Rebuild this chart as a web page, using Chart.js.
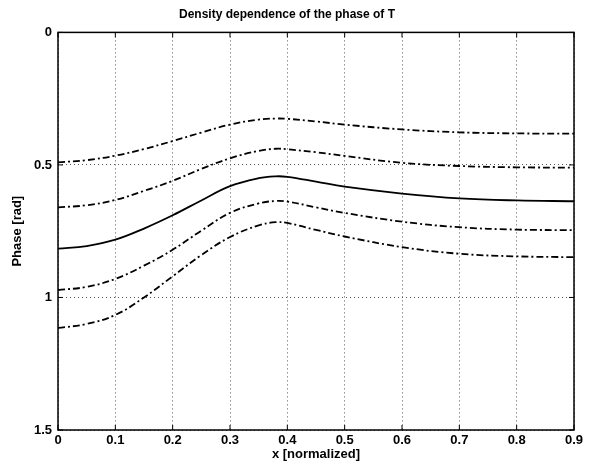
<!DOCTYPE html>
<html>
<head>
<meta charset="utf-8">
<script src="https://cdn.jsdelivr.net/npm/chart.js@4/dist/chart.umd.min.js"></script>
<style>
  html, body { margin: 0; padding: 0; background: #fff; }
  #wrap { width: 590px; height: 466px; }
</style>
</head>
<body>
<div id="wrap"><canvas id="c" width="590" height="466"></canvas></div>
<script>
// Normalized position along x
const xs = [0, 0.05, 0.1, 0.15, 0.2, 0.25, 0.3, 0.35, 0.38, 0.4, 0.45, 0.5, 0.6, 0.7, 0.8, 0.9];

// Phase curves (rad), top to bottom
const phaseA = [0.49, 0.482, 0.465, 0.44, 0.41, 0.378, 0.348, 0.329, 0.325, 0.326, 0.336, 0.348, 0.366, 0.377, 0.381, 0.382];
const phaseB = [0.66, 0.652, 0.632, 0.598, 0.56, 0.515, 0.475, 0.447, 0.439, 0.441, 0.452, 0.466, 0.492, 0.504, 0.509, 0.51];
const phaseRef = [0.816, 0.806, 0.782, 0.74, 0.69, 0.634, 0.58, 0.55, 0.543, 0.545, 0.563, 0.582, 0.608, 0.626, 0.634, 0.637];
const phaseC = [0.972, 0.96, 0.93, 0.88, 0.82, 0.748, 0.681, 0.645, 0.636, 0.638, 0.66, 0.681, 0.714, 0.735, 0.744, 0.746];
const phaseD = [1.115, 1.1, 1.066, 1.0, 0.92, 0.84, 0.772, 0.728, 0.716, 0.719, 0.745, 0.77, 0.81, 0.835, 0.845, 0.848];

// Tick values
const xTicks = [0, 0.1, 0.2, 0.3, 0.4, 0.5, 0.6, 0.7, 0.8, 0.9];
const yTicks = [0, 0.5, 1, 1.5];

const FONT = "'Liberation Sans', Arial, Helvetica, sans-serif";
const dashDot = [7, 3, 2, 3];

function series(ys, dashed) {
  return {
    data: xs.map((x, i) => ({ x: x, y: ys[i] })),
    borderColor: '#000',
    borderWidth: 1.8,
    borderDash: dashed ? dashDot : [],
    pointRadius: 0,
    fill: false,
    tension: 0.4
  };
}

// Axes frame with inward tick marks
const framePlugin = {
  id: 'frame',
  afterDraw(chart) {
    const { ctx, chartArea: a, scales } = chart;
    ctx.save();
    ctx.strokeStyle = '#000';
    ctx.lineWidth = 1.5;
    ctx.setLineDash([]);
    ctx.strokeRect(a.left, a.top, a.right - a.left, a.bottom - a.top);
    ctx.lineWidth = 1;
    const L = 5;
    ctx.beginPath();
    xTicks.forEach(v => {
      const px = scales.x.getPixelForValue(v);
      ctx.moveTo(px, a.bottom); ctx.lineTo(px, a.bottom - L);
      ctx.moveTo(px, a.top); ctx.lineTo(px, a.top + L);
    });
    yTicks.forEach(v => {
      const py = scales.y.getPixelForValue(v);
      ctx.moveTo(a.left, py); ctx.lineTo(a.left + L, py);
      ctx.moveTo(a.right, py); ctx.lineTo(a.right - L, py);
    });
    ctx.stroke();
    ctx.restore();
  }
};

new Chart(document.getElementById('c'), {
  type: 'line',
  data: {
    datasets: [
      series(phaseA, true),
      series(phaseB, true),
      series(phaseRef, false),
      series(phaseC, true),
      series(phaseD, true)
    ]
  },
  options: {
    responsive: false,
    animation: false,
    layout: { padding: { left: 0, right: 16, top: 0, bottom: 0 } },
    plugins: {
      legend: { display: false },
      tooltip: { enabled: false },
      title: {
        display: true,
        text: 'Density dependence of the phase of T',
        color: '#000',
        font: { family: FONT, size: 12, weight: 'bold' },
        padding: { top: 7, bottom: 11 }
      }
    },
    scales: {
      x: {
        type: 'linear',
        min: 0, max: 0.9,
        afterBuildTicks: s => { s.ticks = xTicks.map(v => ({ value: v })); },
        afterFit: s => { s.height = 36; },
        ticks: {
          color: '#000',
          font: { family: FONT, size: 13, weight: 'bold' },
          padding: 3,
          maxRotation: 0,
          callback: v => String(v)
        },
        grid: { color: '#555', lineWidth: 1, drawTicks: false },
        border: { display: false, dash: [1, 3] },
        title: {
          display: true,
          text: 'x [normalized]',
          color: '#000',
          font: { family: FONT, size: 13, weight: 'bold' },
          padding: { top: 0, bottom: 4 }
        }
      },
      y: {
        type: 'linear',
        reverse: true,
        min: 0, max: 1.5,
        afterBuildTicks: s => { s.ticks = yTicks.map(v => ({ value: v })); },
        afterFit: s => { s.width = 58; },
        ticks: {
          color: '#000',
          font: { family: FONT, size: 13, weight: 'bold' },
          padding: 6,
          callback: v => String(v)
        },
        grid: { color: '#555', lineWidth: 1, drawTicks: false },
        border: { display: false, dash: [1, 3] },
        title: {
          display: true,
          text: 'Phase [rad]',
          color: '#000',
          font: { family: FONT, size: 13, weight: 'bold' },
          padding: { top: 10, bottom: 0 }
        }
      }
    }
  },
  plugins: [framePlugin]
});
</script>
</body>
</html>
